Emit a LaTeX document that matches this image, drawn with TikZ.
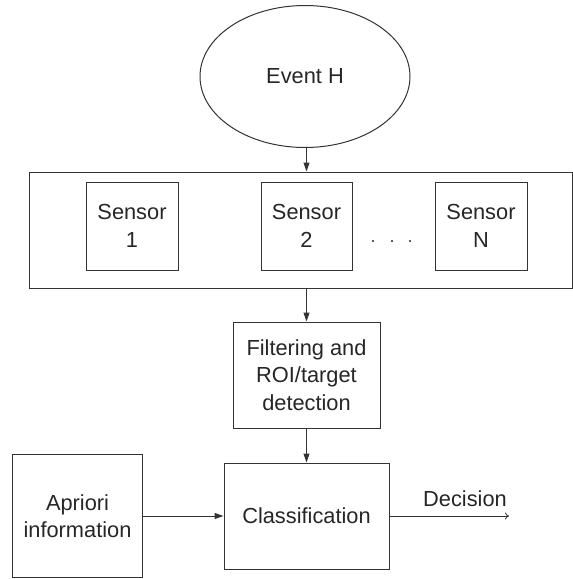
\documentclass[tikz,border=0pt]{standalone}
\usepackage{fontspec}
\setmainfont{Liberation Sans}
\usetikzlibrary{shapes.geometric,arrows.meta}
\definecolor{ln}{HTML}{333333}
\definecolor{tx}{HTML}{262626}
\begin{document}
\begin{tikzpicture}[x=1pt,y=-1pt,
  box/.style={draw=ln,line width=1pt,rectangle,inner sep=0pt,align=center,text=tx,
    font=\fontsize{21.8}{27.5}\selectfont},
  arr/.style={draw=ln,line width=1pt,-{Triangle[length=9pt,width=6pt]}},
  thinarr/.style={draw=ln,line width=0.9pt,-{To[length=4pt,width=7pt,line width=0.8pt]}},
  lbl/.style={text=tx,font=\fontsize{21.8}{27.5}\selectfont,inner sep=0pt}]
\useasboundingbox (0,0) rectangle (573,579);
\node[box,ellipse,minimum width=210pt,minimum height=142pt] (ev) at (305,76.5) {Event H};
\node[box,minimum width=543pt,minimum height=116pt] (big) at (300.5,230) {};
\node[box,minimum width=92pt,minimum height=88pt] (s1) at (132,226) {Sensor\\1};
\node[box,minimum width=91pt,minimum height=88pt] (s2) at (306.5,226) {Sensor\\2};
\node[box,minimum width=92pt,minimum height=88pt] (sN) at (481,226) {Sensor\\N};
\foreach \i/\xx in {1/373,2/392,3/410}
  \fill[tx] (\xx,241) circle (1.2pt) coordinate (d\i);
\node[box,minimum width=147pt,minimum height=106pt] (filt) at (306.5,375) {Filtering and\\ROI/target\\detection};
\node[box,minimum width=165pt,minimum height=106pt] (cls) at (306.5,516) {Classification};
\node[box,minimum width=130pt,minimum height=123pt] (apr) at (77.5,516) {Apriori\\information};
\coordinate (dec) at (509,516);
\node[lbl] (declbl) at (465,499) {Decision};
\draw[arr] (ev.south -| s2.north) -- (s2.north |- big.north);
\draw[arr] (s2.north |- big.south) -- (filt.north);
\draw[arr] (filt.south) -- (cls.north);
\draw[arr] (apr.east) -- (cls.west);
\draw[thinarr] (cls.east) -- (dec);
\end{tikzpicture}
\end{document}
